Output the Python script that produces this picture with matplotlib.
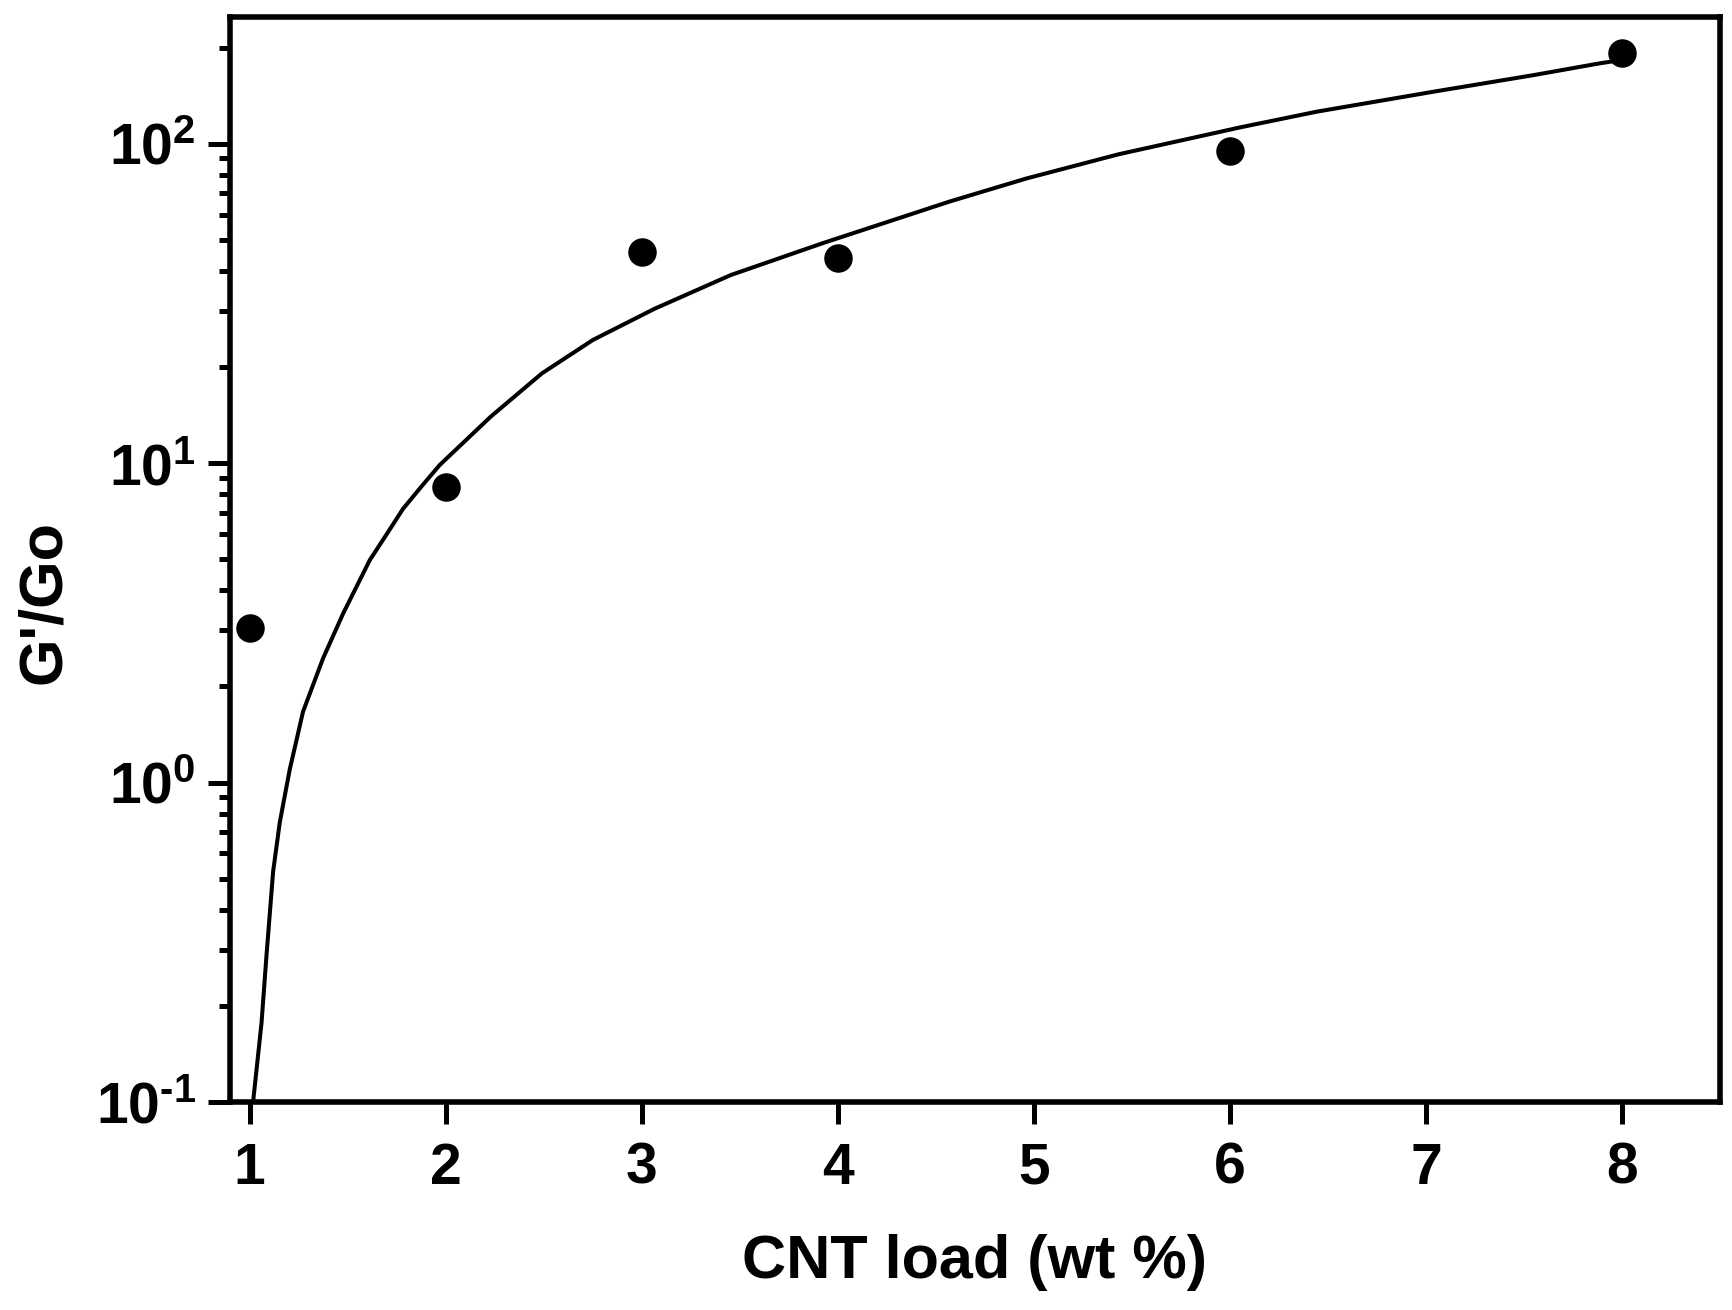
import matplotlib
matplotlib.use("Agg")
import matplotlib.pyplot as plt
from matplotlib.ticker import FixedLocator, FixedFormatter, LogLocator, NullFormatter

plt.rcParams['font.family'] = ['Liberation Sans', 'DejaVu Sans']
plt.rcParams['font.weight'] = 'bold'
plt.rcParams['mathtext.fontset'] = 'custom'
plt.rcParams['mathtext.rm'] = 'Liberation Sans:bold'
plt.rcParams['mathtext.bf'] = 'Liberation Sans:bold'

# measured points
load = [1, 2, 3, 4, 6, 8]
ratio = [3.05, 8.4, 45.9, 43.8, 94.8, 191.7]

# fitted curve
fit_load = [1.010, 1.018, 1.061, 1.086, 1.120, 1.154, 1.205, 1.273, 1.375, 1.477,
            1.613, 1.700, 1.783, 1.880, 1.970, 2.231, 2.491, 2.751, 3.064, 3.454, 3.922,
            4.313, 4.573, 4.964, 5.433, 5.745, 6.052, 6.443, 7.038, 7.549,
            7.888, 7.95]
fit_ratio = [0.08, 0.1, 0.177, 0.286, 0.526, 0.75, 1.10, 1.67, 2.45, 3.38,
             4.97, 6.0, 7.2, 8.5, 9.87, 14.0, 19.1, 24.3, 30.4, 38.8, 48.8,
             58.5, 66.0, 77.9, 92.7, 102.2, 112.5, 126.0, 145.5, 164,
             178.6, 181]

xticks = [1, 2, 3, 4, 5, 6, 7, 8]
xtick_labels = ['1', '2', '3', '4', '5', '6', '7', '8']
yticks = [0.1, 1, 10, 100]
ytick_labels = ['$\\mathbf{10^{\u20101}}$', r'$\mathbf{10^{0}}$',
                r'$\mathbf{10^{1}}$', r'$\mathbf{10^{2}}$']

fig = plt.figure(figsize=(17.33, 13.10), dpi=100)
ax = fig.add_axes([0.1327, 0.1588, 0.8598, 0.8285])

ax.plot(fit_load, fit_ratio, color='black', lw=2.9, zorder=2)
ax.plot(load, ratio, 'o', color='black', ms=19.5, zorder=3)

ax.set_yscale('log')
ax.set_xlim(0.9, 8.5)
ax.set_ylim(0.1, 250)

ax.yaxis.set_major_locator(FixedLocator(yticks))
ax.yaxis.set_major_formatter(FixedFormatter(ytick_labels))
ax.yaxis.set_minor_locator(LogLocator(base=10, subs=range(2, 10), numticks=20))
ax.yaxis.set_minor_formatter(NullFormatter())
ax.set_xticks(xticks)
ax.set_xticklabels(xtick_labels)

ax.tick_params(which='major', length=15.5, width=3.6, labelsize=41, direction='out')
ax.tick_params(axis='x', pad=13)
ax.tick_params(axis='y', pad=9)
ax.tick_params(which='minor', length=8, width=3.6, direction='out')
for s in ax.spines.values():
    s.set_linewidth(4)

ax.set_xlabel('CNT load (wt %)', fontsize=44, fontweight='bold', va='center')
ax.xaxis.set_label_coords(0.5, -0.1483)
ax.set_ylabel("G'/Go", fontsize=44, fontweight='bold', va='center')
ax.yaxis.set_label_coords(-0.1248, 0.4607)

fig.savefig('out.png', dpi=100)
